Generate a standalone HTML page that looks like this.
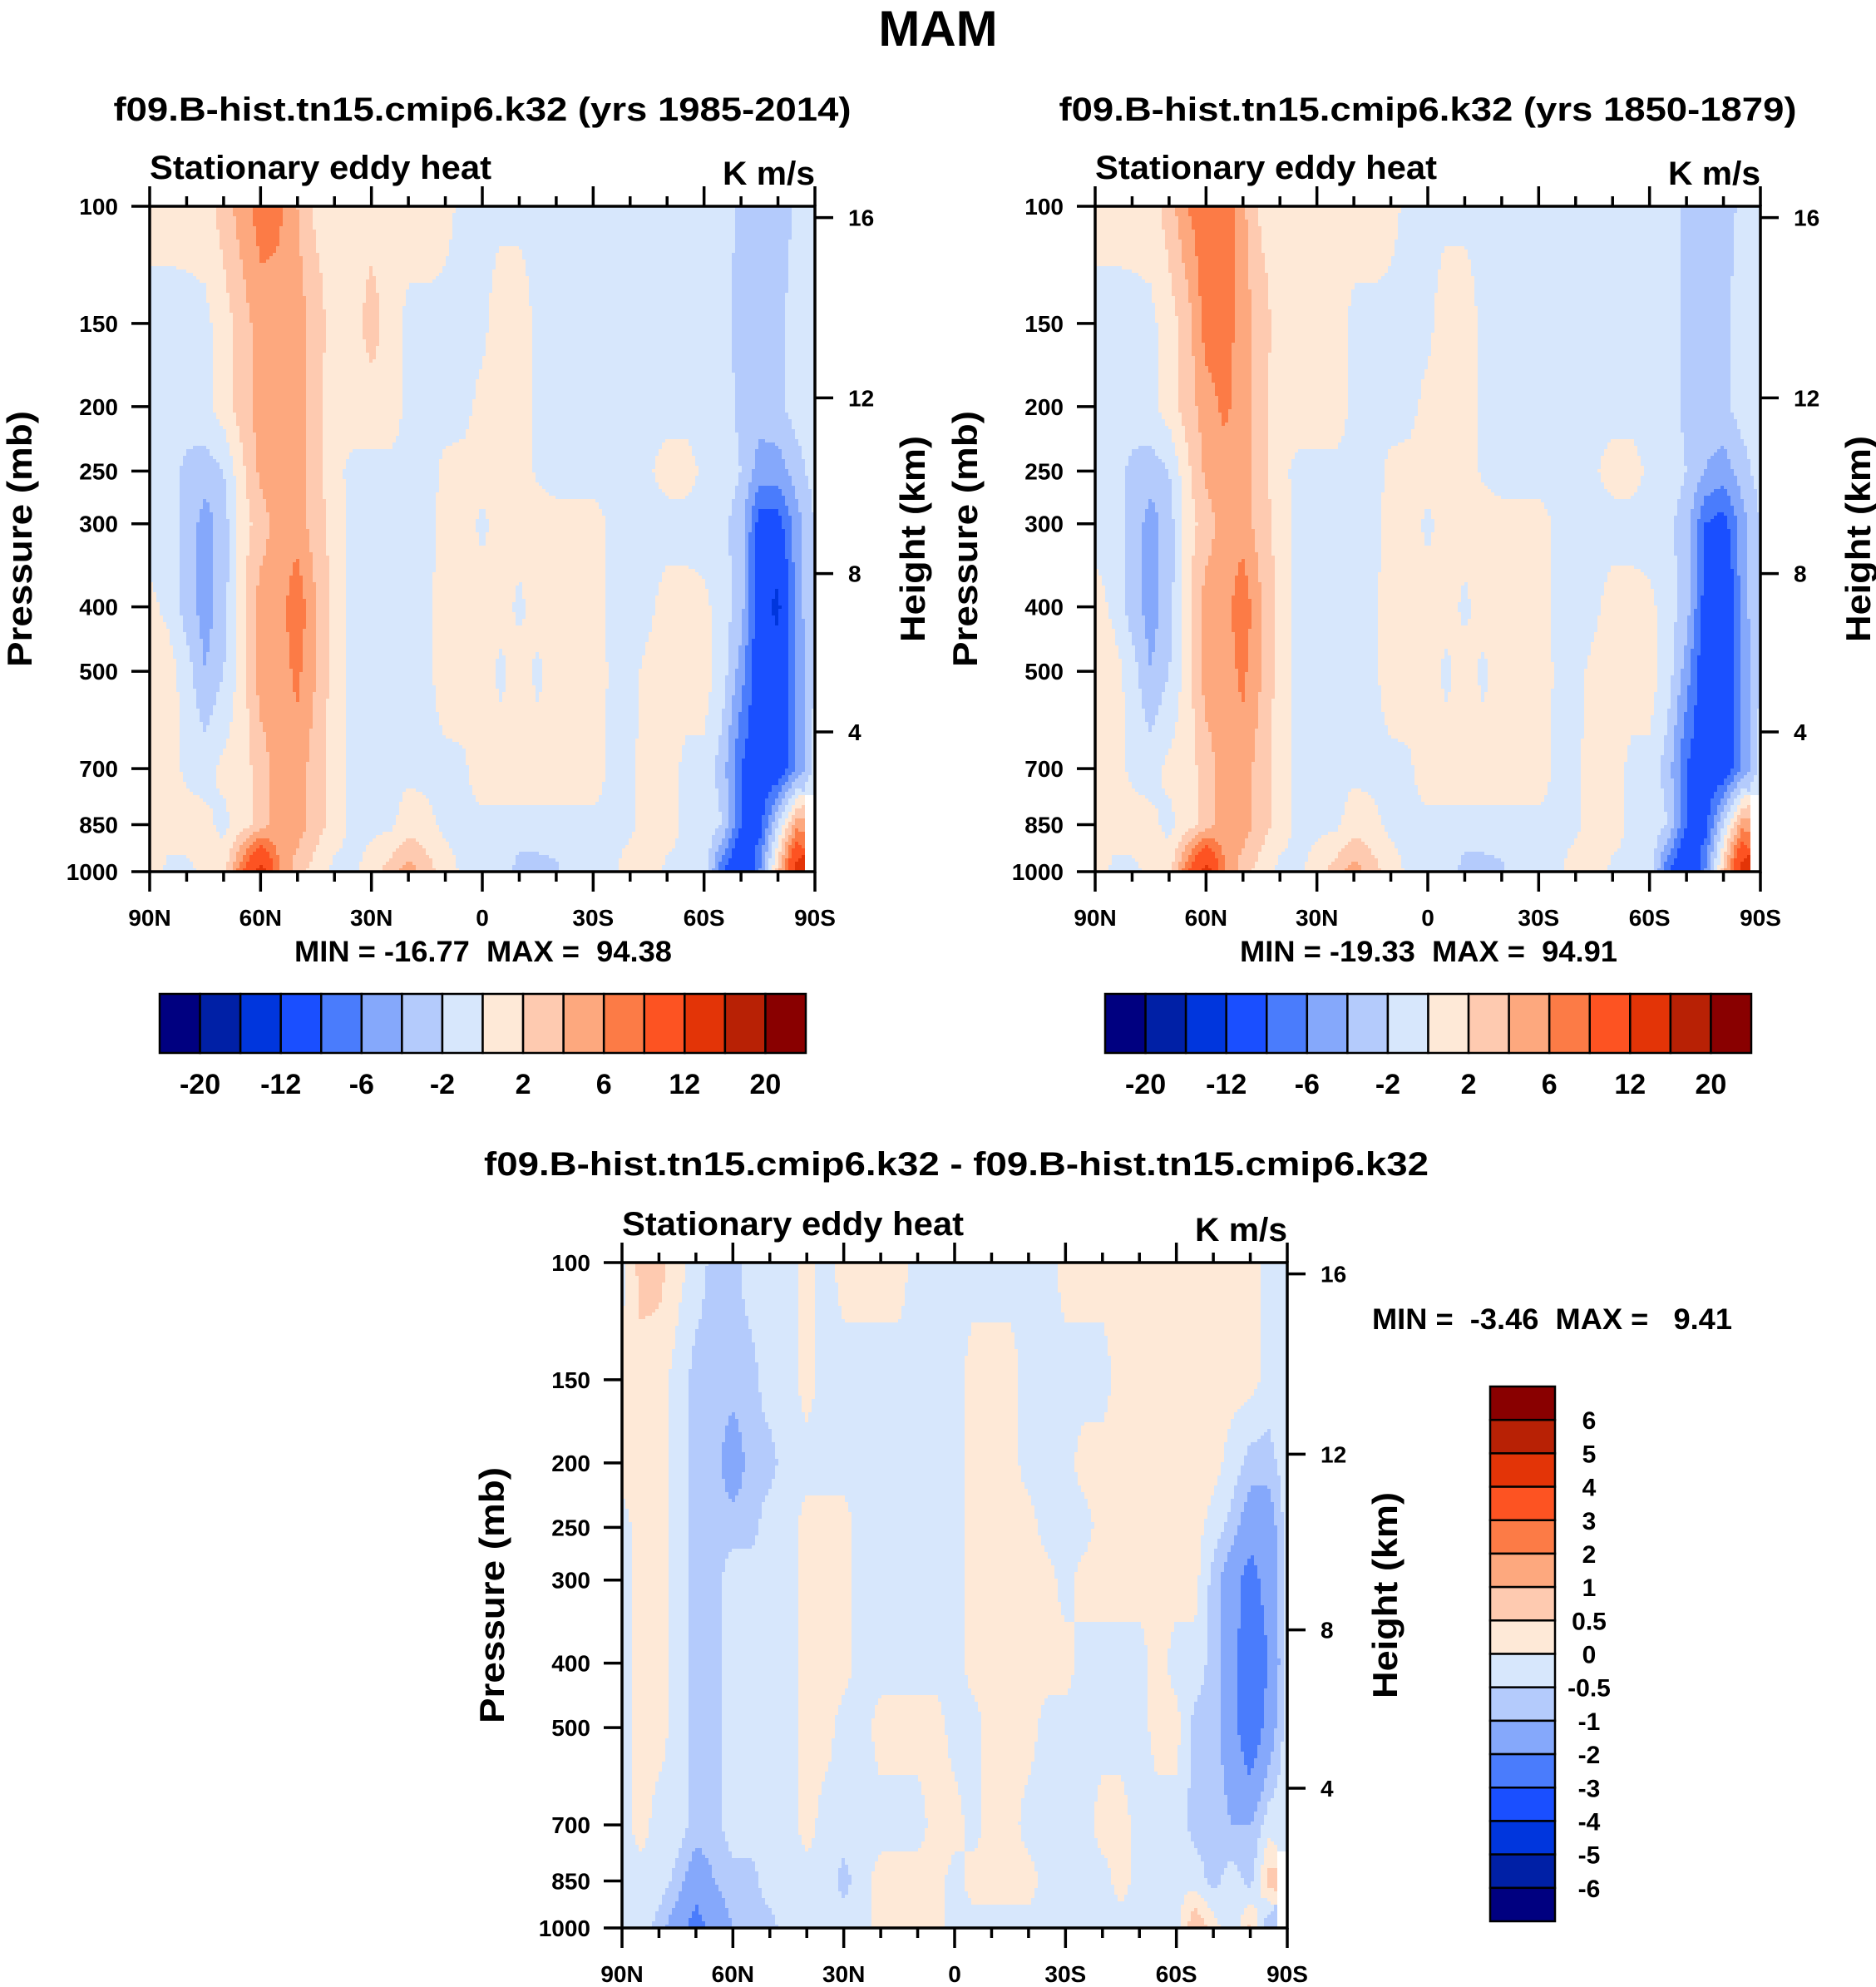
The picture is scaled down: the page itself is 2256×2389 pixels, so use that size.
<!DOCTYPE html>
<html><head><meta charset="utf-8"><title>MAM Stationary eddy heat</title>
<style>
html,body{margin:0;padding:0;background:#fff;}
svg text{font-family:"Liberation Sans",Arial,sans-serif;font-weight:bold;fill:#000;white-space:pre;}
</style></head>
<body>
<svg id="fig" xmlns="http://www.w3.org/2000/svg" width="2256" height="2384" viewBox="0 0 2256 2384">
<rect x="0" y="0" width="2256" height="2384" fill="#fff"/>
<text x="1128" y="55" font-size="60" text-anchor="middle">MAM</text>
<g id="p1"></g>
<g id="p2"></g>
<g id="p3"></g>
</svg>
<script>
// ---- data ----
const pressureLevels=[100,150,200,250,300,400,500,700,850,1000];
const latLabels=['90N','60N','30N','0','30S','60S','90S'];
const pressureTicks=[100,150,200,250,300,400,500,700,850,1000];
const heightTicks=[16,12,8,4];
const heightFracs=[0.017,0.288,0.552,0.79];
const levelsAbs=[-20,-16,-12,-8,-6,-4,-2,0,2,4,6,8,12,16,20];
const labelsAbs=['-20','-12','-6','-2','2','6','12','20'];
const levelsDiff=[-6,-5,-4,-3,-2,-1,-0.5,0,0.5,1,2,3,4,5,6];
const labelsDiff=['6','5','4','3','2','1','0.5','0','-0.5','-1','-2','-3','-4','-5','-6'];
const colors=['#000080','#0020a6','#0036dd','#1a4fff','#4a7cfc','#85a8fb','#b4cbfc','#d7e7fc','#fee9d7','#fecab0','#fda87e','#fc7b46','#fd5322','#e33407','#b82105','#890000'];

// panel 1 (yrs 1985-2014), 37 lats 90N..90S every 5 deg
const p1_100=[1,1,1,1,3,5,7,6.5,4,1.5,1,1,1,1,1,1,0.5,-0.5,-0.5,-0.5,-0.5,-0.5,-0.5,-0.5,-0.5,-0.5,-0.5,-0.5,-0.5,-0.5,-0.5,-1,-2.5,-3,-3.5,-1.5,-1];
const p1_150=[-1,-1,-0.8,-0.5,1,3,5,5,5,3,1,1,3,1,-0.5,-0.5,-0.5,-0.5,-0.5,1,1,-0.5,-1,-1,-1,-1,-1,-1,-1,-1,-1,-1,-3,-3,-2.5,-1,-1];
const p1_200=[-1,-1,-1,-0.5,1,3,5,5,5,2.5,1,1,1,1,-0.5,-0.5,-0.5,-0.5,0.5,1,1,-0.5,-1,-1,-1,-1,-1,-1,-1,-1,-1,-1,-2.5,-3,-2.5,-1,-1];
const p1_250=[-1,-1,-2.5,-3,-2,1.5,4.5,5,5,3,0.5,-0.5,-0.5,-0.5,-0.5,-0.5,0.3,0.5,1,1,1,-0.3,-1,-1,-1,-1,-1,-0.3,1,1,-0.5,-1,-2,-5,-5,-3,-1];
const p1_300=[-1,-1,-2.5,-5,-3,1,3,5,5,3,1,-0.5,-0.5,-0.5,-0.5,-0.5,0.5,1,-0.5,1,1,1,1,1,1,-0.5,-1,-1,-1,-1,-1,-1.5,-3,-9,-9,-5,-2];
const p1_400=[0.5,-0.5,-3,-5,-3,1.5,5,5,7.5,4,1.5,-1,-0.5,-0.5,-0.5,-0.5,1,1,1,1,-0.5,1,1,1,1,-0.5,-1,-0.5,1,1,0.5,-1,-3,-10,-13,-5,-2];
const p1_500=[1,1,-1,-4,-2,1,5,5,6.5,4,1,-0.5,-2,-0.5,-0.5,-0.5,1,1,1,-0.5,1,-0.5,1,1,1,-0.3,-0.5,0.5,1,1,1,-1,-5,-10,-10,-6,-2];
const p1_700=[1,1,-0.5,-0.8,0.5,1,3,5,5,3,1,-0.5,-0.5,-0.5,-0.5,-0.5,-0.5,-0.3,1,1,1,1,1,1,1,-0.5,-0.5,1,1,-0.5,-0.5,-3,-8,-10,-10,-6,-1];
const p1_850=[1,1,1,0.5,-0.5,1,3,5,5,3,1,-0.5,-0.5,-0.5,1,0.5,-0.5,-0.5,-0.5,-0.5,-0.5,-0.5,-0.5,-0.5,-0.5,-0.5,-0.5,1,1,-0.5,-0.5,-2,-8,-9,-2,5,null];
const p1_1000=[1,-0.5,-0.5,0.5,1,8,14,6,3,1,-0.5,-0.5,1,3,5,3,1,-0.5,-0.5,-0.5,-3,-3,-2.5,-0.5,-0.5,-0.5,1,1,-0.5,-0.5,-0.5,-8,-12,-6,3,14,null];

// panel 2 (yrs 1850-1879)
const p2_100=[1,1,1,1,3,6,7.5,7.5,4.5,1.5,1,1,1,1,1,1,0.5,-0.5,-0.5,-0.5,-0.5,-0.5,-0.5,-0.5,-0.5,-0.5,-0.5,-0.5,-0.5,-0.5,-0.5,-1,-2.5,-3,-3,-1.5,-1];
const p2_150=[-1,-1,-0.8,-0.5,1,3,7,7,5,3,1,1,1,1,-0.5,-0.5,-0.5,-0.5,-0.5,1,1,-0.5,-1,-1,-1,-1,-1,-1,-1,-1,-1,-1,-2.5,-3,-2.5,-1,-1];
const p2_200=[-1,-1,-1,-0.5,1,3,5,6.5,5,2.5,1,1,1,1,-0.5,-0.5,-0.5,-0.5,0.5,1,1,-0.5,-1,-1,-1,-1,-1,-1,-1,-1,-1,-1,-2.5,-3,-2.5,-1,-1];
const p2_250=[-1,-1,-2.5,-3,-2,1.5,4.5,5,5,3,0.5,-0.5,-0.5,-0.5,-0.5,-0.5,0.3,0.5,1,1,1,-0.3,-1,-1,-1,-1,-1,-0.3,1,1,-0.5,-1,-2,-4,-5,-3,-1];
const p2_300=[-1,-1,-2.5,-5,-3,1,3,5,5,3,1,-0.5,-0.5,-0.5,-0.5,-0.5,0.5,1,-0.5,1,1,1,1,1,1,-0.5,-1,-1,-1,-1,-1,-1.5,-3,-8,-9,-5,-2];
const p2_400=[1,-0.5,-3,-5,-3,1.5,5,5,7.5,4,1.5,-1,-0.5,-0.5,-0.5,-0.5,1,1,1,1,-0.5,1,1,1,1,-0.5,-1,-0.5,1,1,0.5,-1,-3,-9,-12,-5,-2];
const p2_500=[1,1,-1,-4,-2,1,5,5,6.5,4,1,-0.5,-2,-0.5,-0.5,-0.5,1,1,1,-0.5,1,-0.5,1,1,1,-0.3,-0.5,0.5,1,1,1,-1,-5,-10,-10,-6,-2];
const p2_700=[1,1,-0.5,-0.8,0.5,1,3,5,5,3,1,-0.5,-0.5,-0.5,-0.5,-0.5,-0.5,-0.3,1,1,1,1,1,1,1,-0.5,-0.5,1,1,-0.5,-0.5,-3,-8,-10,-10,-6,-1];
const p2_850=[1,1,1,0.5,-0.5,1,3,5,5,3,1,-0.5,-0.5,-0.5,1,0.5,-0.5,-0.5,-0.5,-0.5,-0.5,-0.5,-0.5,-0.5,-0.5,-0.5,-0.5,1,1,-0.5,-0.5,-2,-8,-9,-2,5,null];
const p2_1000=[1,-0.5,-0.5,0.5,1,8,14,6,3,1,-0.5,-0.5,1,3,5,3,1,-0.5,-0.5,-0.5,-3,-3,-2.5,-0.5,-0.5,-0.5,1,1,-0.5,-0.5,-0.5,-8,-12,-6,3,14,null];

// difference panel
const d_100=[-0.2,0.7,0.7,0.2,-0.2,-0.7,-0.7,-0.2,-0.2,-0.2,0.2,-0.2,0.2,0.2,0.2,0.2,-0.2,-0.2,-0.2,-0.2,-0.2,-0.2,-0.2,-0.2,0.2,0.2,0.2,0.2,0.2,0.2,0.2,0.2,0.2,0.2,0.2,-0.2,-0.2];
const d_150=[0.2,0.3,0.2,-0.2,-0.7,-0.7,-0.7,-0.7,-0.2,-0.2,0.2,-0.2,-0.2,-0.2,-0.2,-0.2,-0.2,-0.2,-0.2,0.2,0.2,0.2,-0.2,-0.2,-0.2,-0.2,-0.2,0.2,0.2,0.2,0.2,0.2,0.2,0.2,0.2,-0.2,-0.2];
const d_200=[0.2,0.3,0.2,-0.2,-0.7,-0.7,-1.5,-0.7,-0.7,-0.2,-0.2,-0.2,-0.2,-0.2,-0.2,-0.2,-0.2,-0.2,-0.2,0.2,0.2,0.2,-0.2,-0.2,-0.2,0.2,0.2,0.2,0.2,0.2,0.2,0.2,0.2,-0.2,-0.7,-0.7,-0.2];
const d_250=[-0.2,0.2,0.2,-0.2,-0.7,-0.7,-0.7,-0.7,-0.2,-0.2,0.2,0.2,0.2,-0.2,-0.2,-0.2,-0.2,-0.2,-0.2,0.2,0.2,0.2,0.2,-0.2,-0.2,-0.2,0.2,0.2,0.2,0.2,0.2,0.2,-0.2,-0.7,-1.5,-1.5,-0.2];
const d_300=[-0.2,0.2,0.2,-0.2,-0.7,-0.7,-0.2,-0.2,-0.2,-0.2,0.2,0.2,0.2,-0.2,-0.2,-0.2,-0.2,-0.2,-0.2,0.2,0.2,0.2,0.2,0.2,-0.2,0.2,0.2,0.2,0.2,0.2,0.2,0.2,-0.7,-1.5,-2.5,-1.5,-0.2];
const d_400=[-0.2,0.2,0.2,-0.2,-0.7,-0.7,-0.2,-0.2,-0.2,-0.2,0.2,0.2,0.2,-0.2,-0.2,-0.2,-0.2,-0.2,-0.2,0.2,0.2,0.2,0.2,0.2,0.2,-0.2,-0.2,-0.2,-0.2,0.2,-0.2,-0.2,-0.7,-1.5,-3,-2,-0.2];
const d_500=[-0.2,0.2,0.2,-0.2,-0.7,-0.7,-0.2,-0.2,-0.2,-0.2,0.2,0.2,-0.2,-0.2,0.2,0.2,0.2,0.2,-0.2,-0.2,0.2,0.2,0.2,-0.2,-0.2,-0.2,-0.2,-0.2,-0.2,0.2,0.2,-0.7,-0.7,-1.5,-3,-1.5,-0.2];
const d_700=[-0.2,0.2,-0.2,-0.2,-0.7,-0.7,-0.2,-0.2,-0.2,-0.2,0.2,-0.2,-0.2,-0.2,-0.2,-0.2,-0.2,0.2,0.2,-0.2,0.2,0.2,-0.2,-0.2,-0.2,-0.2,0.2,0.2,-0.2,-0.2,-0.2,-0.7,-0.7,-1,-1,-0.2,-0.2];
const d_850=[-0.2,-0.2,-0.2,-0.7,-1.5,-1,-0.7,-0.7,-0.2,-0.2,-0.2,-0.2,-0.7,-0.2,0.2,0.2,0.2,0.2,-0.2,0.2,0.2,0.2,0.2,-0.2,-0.2,-0.2,-0.2,0.2,-0.2,-0.2,-0.2,-0.2,-0.7,-0.2,-0.7,0.7,null];
const d_1000=[-0.2,-0.2,-0.7,-1.5,-2.5,-1.5,-1,-0.7,-0.7,-0.2,-0.2,-0.2,-0.2,-0.2,0.2,0.2,0.2,0.2,-0.2,-0.2,-0.2,-0.2,-0.2,-0.2,-0.2,-0.2,-0.2,-0.2,-0.2,-0.2,-0.2,1,0.3,-0.5,0.7,-1,null];

const rows1=[p1_100,p1_150,p1_200,p1_250,p1_300,p1_400,p1_500,p1_700,p1_850,p1_1000];
const rows2=[p2_100,p2_150,p2_200,p2_250,p2_300,p2_400,p2_500,p2_700,p2_850,p2_1000];
const rowsD=[d_100,d_150,d_200,d_250,d_300,d_400,d_500,d_700,d_850,d_1000];

// ---- drawing ----
const NS='http://www.w3.org/2000/svg';
function mk(parent,tag,attrs,txt){const e=document.createElementNS(NS,tag);for(const k in attrs)e.setAttribute(k,attrs[k]);if(txt!==undefined)e.textContent=txt;parent.appendChild(e);return e;}
function yOfP(p,y0,h){return y0+(Math.log10(p)-2)*h;}
function sample(rows,fi,j,t){
  const n=rows[0].length;
  const i0=Math.max(0,Math.min(n-1,Math.floor(fi))),i1=Math.min(n-1,i0+1),s=fi-i0;
  const j1=Math.min(rows.length-1,j+1);
  const ni=s<0.5?i0:i1,nj=t<0.5?j:j1;
  const near=rows[nj][ni];
  if(near===null)return null;
  const g=(r,c)=>{const v=rows[r][c];return v===null?near:v;};
  const a=g(j,i0)*(1-s)+g(j,i1)*s,b=g(j1,i0)*(1-s)+g(j1,i1)*s;
  return a*(1-t)+b*t;
}
function classOf(v,levels){let k=0;while(k<levels.length&&v>=levels[k])k++;return k;}
function drawField(g,rows,levels,x0,y0,w,h){
  const step=4,fg=mk(g,'g',{'shape-rendering':'crispEdges'});
  
  
  const n=rows[0].length;
  for(let y=y0;y<y0+h;y+=step){
    const p=Math.pow(10,2+(y+step/2-y0)/h);
    let j=0;while(j<pressureLevels.length-2&&p>pressureLevels[j+1])j++;
    const t=Math.max(0,Math.min(1,(Math.log10(p)-Math.log10(pressureLevels[j]))/(Math.log10(pressureLevels[j+1])-Math.log10(pressureLevels[j]))));
    let runStart=x0,runC=null;
    for(let x=x0;x<=x0+w;x+=step){
      let c='end';
      if(x<x0+w){const fi=(x+step/2-x0)/w*(n-1);const v=sample(rows,fi,j,t);c=v===null?'#ffffff':colors[classOf(v,levels)];}
      if(c!==runC){
        if(runC!==null){const r=mk(fg,'rect',{x:runStart,y:y,width:x-runStart+0.6,height:Math.min(step+0.6,y0+h-y),fill:runC});
          
          }
        runStart=x;runC=c;
      }
    }
  }
}
function drawAxes(g,x0,y0,w,h,opts){
  const ax=mk(g,'g',{stroke:'#000','stroke-width':3.5,fill:'none'});
  
  
  mk(ax,'rect',{x:x0,y:y0,width:w,height:h});
  for(let k=0;k<=18;k++){
    const x=x0+k*w/18,L=(k%3===0)?24:12;
    mk(ax,'line',{x1:x,y1:y0,x2:x,y2:y0-L});
    mk(ax,'line',{x1:x,y1:y0+h,x2:x,y2:y0+h+L});
  }
  latLabels.forEach((s,k)=>{const t=mk(g,'text',{x:x0+k*w/6,y:y0+h+65,'font-size':28,'text-anchor':'middle'},s);
    
    });
  pressureTicks.forEach(p=>{const y=yOfP(p,y0,h);mk(ax,'line',{x1:x0,y1:y,x2:x0-22,y2:y});
    const t=mk(g,'text',{x:x0-38,y:y+10,'font-size':28,'text-anchor':'end'},String(p));
    
    });
  heightTicks.forEach((hk,k)=>{const y=y0+heightFracs[k]*h;mk(ax,'line',{x1:x0+w,y1:y,x2:x0+w+22,y2:y});
    const t=mk(g,'text',{x:x0+w+40,y:y+10,'font-size':28},String(hk));
    
    });
  let t=mk(g,'text',{x:x0,y:opts.subY,'font-size':40,textLength:411,lengthAdjust:'spacingAndGlyphs'},'Stationary eddy heat');
  
  
  t=mk(g,'text',{x:x0+w,y:opts.subY+7,'font-size':40,'text-anchor':'end',textLength:111,lengthAdjust:'spacingAndGlyphs'},'K m/s');
  
  
  t=mk(g,'text',{x:0,y:0,'font-size':42,'text-anchor':'middle',textLength:308,lengthAdjust:'spacingAndGlyphs',transform:`translate(${opts.pX},${y0+h*0.5}) rotate(-90)`},'Pressure (mb)');
  
  
  t=mk(g,'text',{x:0,y:0,'font-size':42,'text-anchor':'middle',textLength:248,lengthAdjust:'spacingAndGlyphs',transform:`translate(${opts.hX},${y0+h*0.5}) rotate(-90)`},'Height (km)');
  
  
}
function hColorbar(g,x0,y0,w,h){
  const cb=mk(g,'g',{});
  
  
  const bw=w/colors.length;
  colors.forEach((c,k)=>{const r=mk(cb,'rect',{x:x0+k*bw,y:y0,width:bw,height:h,fill:c,stroke:'#000','stroke-width':2.5});
    
    });
  labelsAbs.forEach((s,k)=>{const t=mk(cb,'text',{x:x0+(1+2*k)*bw,y:y0+h+49,'font-size':34,'text-anchor':'middle'},s);
    
    });
}
function vColorbar(g,x0,y0,w,h){
  const cb=mk(g,'g',{});
  
  
  const bh=h/colors.length;
  colors.slice().reverse().forEach((c,k)=>{const r=mk(cb,'rect',{x:x0,y:y0+k*bh,width:w,height:bh,fill:c,stroke:'#000','stroke-width':2.5});
    
    });
  labelsDiff.forEach((s,k)=>{const t=mk(cb,'text',{x:x0+w+41,y:y0+(k+1)*bh+11,'font-size':30,'text-anchor':'middle'},s);
    
    });
}
function panel(id,rows,levels,x0,y0,title,titleX,titleY,titleLen,minmax,mmX,mmY,mmAnchor,mmLen){
  const g=document.getElementById(id);
  let t=mk(g,'text',{x:titleX,y:titleY,'font-size':40,'text-anchor':'middle',textLength:titleLen,lengthAdjust:'spacingAndGlyphs'},title);
  
  
  drawField(g,rows,levels,x0,y0,800,800);
  drawAxes(g,x0,y0,800,800,{subY:y0-33,pX:x0-142,hX:x0+932});
  t=mk(g,'text',{x:mmX,y:mmY,'font-size':35,'text-anchor':mmAnchor,textLength:mmLen,lengthAdjust:'spacingAndGlyphs'},minmax);
  
  
}
panel('p1',rows1,levelsAbs,180,248,'f09.B-hist.tn15.cmip6.k32 (yrs 1985-2014)',580,145,887,'MIN = -16.77  MAX =  94.38',581,1156,'middle',454);
hColorbar(document.getElementById('p1'),192,1195,777,71);
panel('p2',rows2,levelsAbs,1317,248,'f09.B-hist.tn15.cmip6.k32 (yrs 1850-1879)',1717,145,887,'MIN = -19.33  MAX =  94.91',1718,1156,'middle',454);
hColorbar(document.getElementById('p2'),1329,1195,777,71);
panel('p3',rowsD,levelsDiff,748,1518,'f09.B-hist.tn15.cmip6.k32 - f09.B-hist.tn15.cmip6.k32',1150,1413,1136,'MIN =  -3.46  MAX =   9.41',1650,1598,'start',433);
vColorbar(document.getElementById('p3'),1792,1667,78,643);
</script>
</body></html>
